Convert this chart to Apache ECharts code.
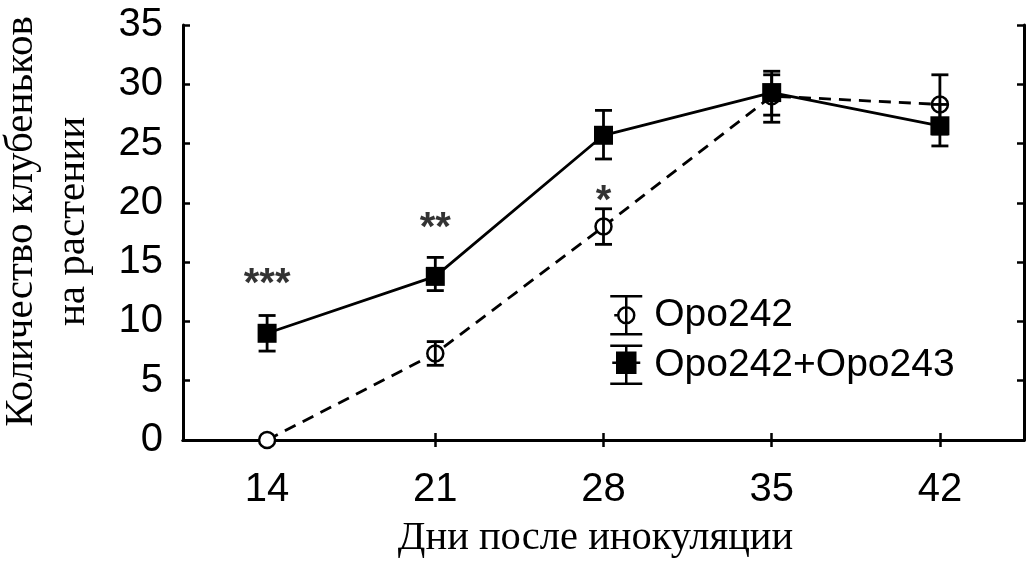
<!DOCTYPE html>
<html>
<head>
<meta charset="utf-8">
<script src="https://cdn.jsdelivr.net/npm/echarts@6/dist/echarts.min.js"></script>
<style>html,body{margin:0;padding:0;background:#fff}#c{width:1026px;height:575px}</style>
</head>
<body>
<div id="c"></div>
<script>
// Data
const days = ['14', '21', '28', '35', '42'];
const opo242 = [0.0, 7.3, 18.0, 29.0, 28.3];
const opo242Low = [0.0, 6.3, 16.5, 27.4, 25.8];
const opo242High = [0.0, 8.3, 19.5, 30.8, 30.8];
const opo243 = [9.0, 13.8, 25.7, 29.3, 26.5];
const opo243Low = [7.5, 12.6, 23.7, 26.8, 24.8];
const opo243High = [10.5, 15.4, 27.8, 31.1, 28.3];
const sigLabels = ['***', '**', '*'];
const sigY = [14.0, 18.7, 21.0];
const yTicks = [0, 5, 10, 15, 20, 25, 30, 35];

const sans = 'Liberation Sans, Arial, sans-serif';
const serif = 'Liberation Serif, Times New Roman, serif';

function errData(lo, hi) {
  return days.map((d, i) => [i, lo[i], hi[i]]);
}
function renderErr(params, api) {
  const x = api.value(0), lo = api.value(1), hi = api.value(2);
  if (hi - lo <= 0) return null;
  const a = api.coord([x, lo]);
  const b = api.coord([x, hi]);
  const w = 8.5;
  const st = { stroke: '#000', lineWidth: 2.8 };
  return {
    type: 'group',
    children: [
      { type: 'line', shape: { x1: a[0], y1: a[1], x2: b[0], y2: b[1] }, style: st },
      { type: 'line', shape: { x1: b[0] - w, y1: b[1], x2: b[0] + w, y2: b[1] }, style: st },
      { type: 'line', shape: { x1: a[0] - w, y1: a[1], x2: a[0] + w, y2: a[1] }, style: st }
    ]
  };
}

const iconCircle = 'path://M0 1 L32 1 M16 1 L16 39 M0 39 L32 39 M4 20 L8 20 M8 20 A8 8 0 1 1 24 20 A8 8 0 1 1 8 20 Z';
const iconSquare = 'path://M0 1 L32 1 M16 1 L16 39 M0 39 L32 39 M2 18 L8 18 M24 18 L30 18 M7 8 L25 8 L25 28 L7 28 Z';

const axisLine = { show: true, lineStyle: { color: '#000', width: 3 } };
const axisTick = { show: true, inside: true, length: 7, lineStyle: { color: '#000', width: 2.5 } };

const chart = echarts.init(document.getElementById('c'), null, { renderer: 'canvas' });
chart.setOption({
  animation: false,
  backgroundColor: '#fff',
  grid: { left: 183, right: 2, top: 25, bottom: 135, containLabel: false, outerBoundsMode: 'none' },
  legend: {
    orient: 'vertical',
    left: 604,
    top: 290,
    itemWidth: 32,
    itemHeight: 40,
    itemGap: 9,
    selectedMode: false,
    textStyle: { fontSize: 39, fontFamily: sans, color: '#000', padding: [0, 0, 0, 7] },
    data: [
      { name: 'Opo242', icon: iconCircle, itemStyle: { color: '#fff', borderColor: '#000', borderWidth: 2.5 } },
      { name: 'Opo242+Opo243', icon: iconSquare, itemStyle: { color: '#000', borderColor: '#000', borderWidth: 2.5 } }
    ]
  },
  xAxis: [
    {
      type: 'category', data: days, position: 'bottom', boundaryGap: true,
      axisLine: axisLine,
      axisTick: Object.assign({ alignWithLabel: true }, axisTick),
      axisLabel: { fontSize: 40, fontFamily: sans, color: '#000', margin: 30 },
      name: 'Дни после инокуляции', nameLocation: 'middle', nameGap: 78,
      nameTextStyle: { fontSize: 40.5, fontFamily: serif, color: '#000', padding: [0, 16, 0, 0] },
      splitLine: { show: false }
    },
    {
      type: 'category', data: days, position: 'top', boundaryGap: true,
      axisLine: axisLine,
      axisTick: Object.assign({ alignWithLabel: true }, axisTick),
      axisLabel: { show: false },
      splitLine: { show: false }
    }
  ],
  yAxis: [
    {
      type: 'value', min: 0, max: 35, interval: 5, position: 'left',
      axisLine: axisLine, axisTick: axisTick,
      axisLabel: { fontSize: 40, fontFamily: sans, color: '#000', margin: 20,
        formatter: v => yTicks.indexOf(v) >= 0 ? String(v) : '' },
      splitLine: { show: false },
      name: 'Количество клубеньков\nна растении', nameLocation: 'middle', nameRotate: 90, nameGap: 84,
      nameTextStyle: { fontSize: 41, fontFamily: serif, color: '#000', lineHeight: 52, padding: [0, 0, 0, 22] }
    },
    {
      type: 'value', min: 0, max: 35, interval: 5, position: 'right',
      axisLine: axisLine, axisTick: axisTick,
      axisLabel: { show: false }, splitLine: { show: false }
    }
  ],
  series: [
    {
      name: 'Opo242', type: 'line', data: opo242, z: 2,
      symbol: 'circle', symbolSize: 16,
      itemStyle: { color: '#fff', borderColor: '#000', borderWidth: 2.5 },
      lineStyle: { color: '#000', width: 2.8, type: [12, 8] }
    },
    {
      name: 'Opo242+Opo243', type: 'line', data: opo243, z: 3,
      symbol: 'rect', symbolSize: 19,
      itemStyle: { color: '#000', borderColor: '#000', borderWidth: 0 },
      lineStyle: { color: '#000', width: 2.8, type: 'solid' }
    },
    {
      name: 'err242', type: 'custom', renderItem: renderErr, z: 4,
      data: errData(opo242Low, opo242High), encode: { x: 0, y: [1, 2] }
    },
    {
      name: 'err243', type: 'custom', renderItem: renderErr, z: 4,
      data: errData(opo243Low, opo243High), encode: { x: 0, y: [1, 2] }
    },
    {
      name: 'sig', type: 'scatter', z: 5, symbolSize: 1,
      itemStyle: { color: 'rgba(0,0,0,0)' },
      data: sigLabels.map((s, i) => ({ value: [i, sigY[i]], name: s })),
      label: { show: true, position: 'inside', formatter: p => p.name, offset: [0, 11],
        fontSize: 40, fontWeight: 'bold', fontFamily: sans, color: '#000' }
    }
  ]
});
</script>
</body>
</html>
